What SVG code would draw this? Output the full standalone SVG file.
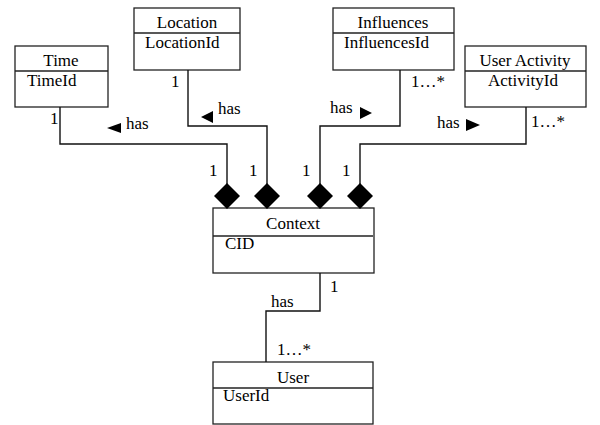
<svg xmlns="http://www.w3.org/2000/svg" width="600" height="425" viewBox="0 0 600 425">
<style>
text{font-family:"Liberation Serif","Times New Roman",serif;font-size:17px;fill:#000}
.box{fill:#fff;stroke:#222;stroke-width:1.3}
.div{stroke:#222;stroke-width:1.3}
.c{text-anchor:middle}
.ln{fill:none;stroke:#111;stroke-width:1.4}
.dia{fill:#000}
.tri{fill:#000}
</style>
<rect width="600" height="425" fill="#fff"/>
<g id="time">
<rect class="box" x="15" y="46" width="93" height="61"/>
<line class="div" x1="15" y1="71" x2="108" y2="71"/>
<text class="c" x="61" y="66">Time</text>
<text x="27" y="86">TimeId</text>
</g>
<g id="location">
<rect class="box" x="134" y="8" width="106" height="62"/>
<line class="div" x1="134" y1="33" x2="240" y2="33"/>
<text class="c" x="187" y="28">Location</text>
<text x="145" y="48">LocationId</text>
</g>
<g id="influences">
<rect class="box" x="333" y="8" width="121" height="62"/>
<line class="div" x1="333" y1="33" x2="454" y2="33"/>
<text class="c" x="393" y="28">Influences</text>
<text x="344" y="48">InfluencesId</text>
</g>
<g id="useractivity">
<rect class="box" x="465" y="46" width="121" height="61"/>
<line class="div" x1="465" y1="71" x2="586" y2="71"/>
<text class="c" x="525" y="66">User Activity</text>
<text x="488" y="86">ActivityId</text>
</g>
<g id="context">
<rect class="box" x="213" y="208" width="161" height="65"/>
<line class="div" x1="213" y1="236" x2="373" y2="236"/>
<text class="c" x="293" y="229">Context</text>
<text x="225" y="249">CID</text>
</g>
<g id="user">
<rect class="box" x="213" y="362" width="160" height="62"/>
<line class="div" x1="213" y1="388" x2="373" y2="388"/>
<text class="c" x="293" y="383">User</text>
<text x="223" y="401">UserId</text>
</g>
<g id="connectors">
<polyline class="ln" points="60,107 60,144 227,144 227,184"/>
<polyline class="ln" points="188,70 188,126 267,126 267,184"/>
<polyline class="ln" points="400,70 400,126 320,126 320,184"/>
<polyline class="ln" points="526,107 526,144 360,144 360,184"/>
<polyline class="ln" points="320,273 320,311 266,311 266,362"/>
<polygon class="dia" points="227,183 240,196 227,209 214,196"/>
<polygon class="dia" points="267,183 280,196 267,209 254,196"/>
<polygon class="dia" points="320,183 333,196 320,209 307,196"/>
<polygon class="dia" points="360,183 373,196 360,209 347,196"/>
<polygon class="tri" points="107,128 121,123 121,133"/>
<polygon class="tri" points="201,117 213,111 213,123"/>
<polygon class="tri" points="372,113 360,107 360,119"/>
<polygon class="tri" points="480,125 466,119 466,131"/>
<text x="50" y="124">1</text>
<text x="126" y="129">has</text>
<text x="171" y="87">1</text>
<text x="218" y="114">has</text>
<text x="330" y="113">has</text>
<text x="411" y="87">1…*</text>
<text x="437" y="128">has</text>
<text x="531" y="127">1…*</text>
<text x="209" y="176">1</text>
<text x="249" y="176">1</text>
<text x="302" y="176">1</text>
<text x="342" y="176">1</text>
<text x="330" y="292">1</text>
<text x="271" y="307">has</text>
<text x="277" y="355">1…*</text>
</g>
</svg>
